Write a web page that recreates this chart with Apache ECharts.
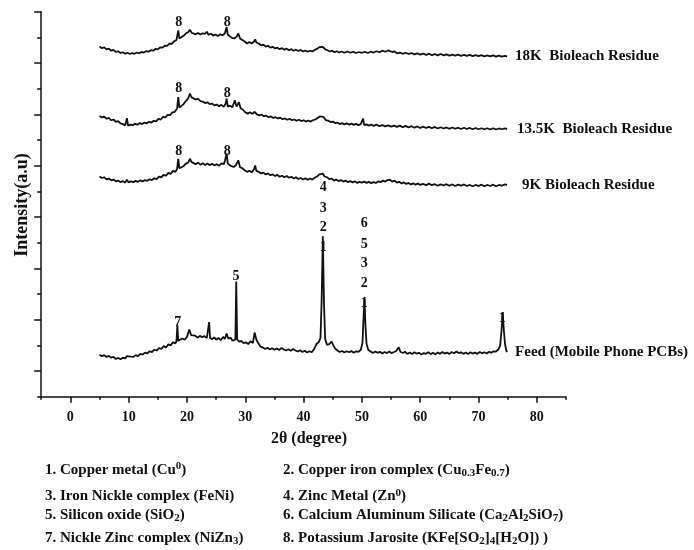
<!DOCTYPE html>
<html><head><meta charset="utf-8">
<script src="https://cdn.jsdelivr.net/npm/echarts@6/dist/echarts.min.js"></script>
<style>html,body{margin:0;padding:0;background:#fff}#c{width:694px;height:550px}</style>
</head><body><div id="c"></div>
<script>
// 2θ tick labels
var xTickValues = [0, 10, 20, 30, 40, 50, 60, 70, 80];
var xMinorValues = [-5, 5, 15, 25, 35, 45, 55, 65, 75, 85];
var yMajorValues = [0, 2, 4, 6, 8, 10, 12, 14];
var yMinorValues = [-1, 1, 3, 5, 7, 9, 11, 13];

var seriesNames = ['18K  Bioleach Residue', '13.5K  Bioleach Residue', '9K Bioleach Residue', 'Feed (Mobile Phone PCBs)'];

// [2θ, intensity (a.u., stacked offset as drawn)]
var k18 = [[5.0,12.64],[5.4,12.58],[5.8,12.61],[6.2,12.53],[6.6,12.56],[7.0,12.48],[7.4,12.51],[7.8,12.43],[8.2,12.46],[8.6,12.39],[9.0,12.42],[9.4,12.36],[9.8,12.40],[10.2,12.35],[10.6,12.39],[11.0,12.36],[11.4,12.41],[11.8,12.38],[12.2,12.43],[12.6,12.41],[13.0,12.46],[13.4,12.44],[13.8,12.50],[14.2,12.48],[14.6,12.55],[15.0,12.53],[15.4,12.61],[15.8,12.60],[16.2,12.68],[16.6,12.67],[17.0,12.76],[17.4,12.75],[17.8,12.85],[18.2,12.90],[18.5,13.27],[18.7,12.96],[19.0,13.02],[19.4,13.06],[19.8,13.15],[20.2,13.20],[20.5,13.30],[20.8,13.18],[21.1,13.22],[21.5,13.12],[21.9,13.17],[22.3,13.11],[22.7,13.16],[23.1,13.14],[23.4,13.22],[23.7,13.10],[24.1,13.14],[24.5,13.07],[24.9,13.11],[25.3,13.05],[25.7,13.12],[26.1,13.08],[26.5,13.16],[26.8,13.40],[27.0,13.10],[27.3,13.13],[27.7,12.98],[28.1,12.96],[28.5,13.02],[28.8,13.15],[29.1,12.96],[29.5,12.90],[29.9,12.84],[30.3,12.76],[30.7,12.82],[31.1,12.76],[31.5,12.84],[31.7,12.92],[31.9,12.80],[32.3,12.76],[32.7,12.69],[33.1,12.72],[33.5,12.64],[33.9,12.67],[34.3,12.60],[34.7,12.63],[35.1,12.57],[35.5,12.60],[35.9,12.54],[36.3,12.58],[36.7,12.52],[37.1,12.56],[37.5,12.50],[37.9,12.54],[38.3,12.48],[38.7,12.52],[39.1,12.47],[39.5,12.51],[39.9,12.45],[40.3,12.49],[40.7,12.44],[41.1,12.48],[41.5,12.45],[41.9,12.51],[42.3,12.55],[42.7,12.62],[43.0,12.59],[43.3,12.63],[43.7,12.53],[44.1,12.50],[44.5,12.45],[44.9,12.48],[45.3,12.42],[45.7,12.46],[46.1,12.41],[46.5,12.45],[47.0,12.40],[47.5,12.45],[48.0,12.40],[48.5,12.44],[49.0,12.39],[49.5,12.43],[50.0,12.40],[50.5,12.44],[51.0,12.39],[51.5,12.44],[52.0,12.41],[52.5,12.46],[53.0,12.42],[53.5,12.48],[54.0,12.44],[54.5,12.49],[54.8,12.52],[55.2,12.43],[55.6,12.45],[56.0,12.38],[56.5,12.41],[57.0,12.36],[57.5,12.40],[58.0,12.35],[58.5,12.39],[59.0,12.34],[59.5,12.38],[60.0,12.33],[60.5,12.37],[61.0,12.32],[61.5,12.36],[62.0,12.31],[62.5,12.35],[63.0,12.30],[63.5,12.35],[64.0,12.30],[64.5,12.34],[65.0,12.29],[65.5,12.33],[66.0,12.29],[66.5,12.33],[67.0,12.28],[67.5,12.32],[68.0,12.28],[68.5,12.32],[69.0,12.27],[69.5,12.31],[70.0,12.27],[70.5,12.31],[71.0,12.26],[71.5,12.30],[72.0,12.26],[72.5,12.30],[73.0,12.25],[73.5,12.29],[74.0,12.25],[74.5,12.28],[74.9,12.26]];

var k135 = [[5.0,9.94],[5.4,9.88],[5.8,9.91],[6.2,9.83],[6.6,9.86],[7.0,9.77],[7.4,9.80],[7.8,9.71],[8.2,9.74],[8.6,9.65],[9.0,9.62],[9.4,9.57],[9.7,9.85],[9.9,9.56],[10.3,9.60],[10.7,9.58],[11.1,9.63],[11.5,9.60],[11.9,9.66],[12.3,9.62],[12.7,9.68],[13.1,9.65],[13.5,9.71],[13.9,9.68],[14.3,9.75],[14.7,9.73],[15.1,9.82],[15.5,9.80],[15.9,9.90],[16.3,9.88],[16.7,9.98],[17.1,9.97],[17.5,10.08],[17.9,10.10],[18.3,10.22],[18.5,10.67],[18.7,10.26],[19.0,10.32],[19.4,10.40],[19.8,10.52],[20.2,10.62],[20.5,10.81],[20.8,10.66],[21.1,10.70],[21.5,10.58],[21.9,10.60],[22.3,10.52],[22.7,10.50],[23.1,10.44],[23.5,10.47],[23.9,10.40],[24.3,10.42],[24.7,10.35],[25.1,10.38],[25.5,10.32],[25.9,10.37],[26.3,10.30],[26.6,10.40],[26.8,10.61],[27.0,10.30],[27.4,10.34],[27.8,10.28],[28.2,10.55],[28.5,10.30],[28.9,10.48],[29.2,10.24],[29.6,10.18],[30.0,10.08],[30.4,10.03],[30.8,10.08],[31.2,10.02],[31.6,10.10],[32.0,10.00],[32.4,9.96],[32.8,9.99],[33.2,9.93],[33.6,9.95],[34.0,9.89],[34.4,9.92],[34.8,9.86],[35.2,9.89],[35.6,9.84],[36.0,9.87],[36.4,9.81],[36.8,9.84],[37.2,9.79],[37.6,9.83],[38.0,9.77],[38.4,9.80],[38.8,9.75],[39.2,9.79],[39.6,9.74],[40.0,9.77],[40.4,9.72],[40.8,9.76],[41.2,9.72],[41.6,9.77],[42.0,9.80],[42.4,9.86],[42.8,9.92],[43.1,9.88],[43.4,9.90],[43.8,9.78],[44.2,9.76],[44.6,9.70],[45.0,9.72],[45.4,9.66],[45.8,9.68],[46.2,9.62],[46.6,9.66],[47.0,9.61],[47.4,9.65],[47.8,9.60],[48.2,9.64],[48.6,9.59],[49.0,9.63],[49.4,9.58],[49.8,9.62],[50.1,9.60],[50.2,9.83],[50.4,9.58],[50.8,9.61],[51.2,9.56],[51.6,9.60],[52.0,9.55],[52.5,9.60],[53.0,9.54],[53.5,9.58],[54.0,9.53],[54.5,9.57],[55.0,9.52],[55.5,9.56],[56.0,9.51],[56.5,9.56],[57.0,9.50],[57.5,9.55],[58.0,9.49],[58.5,9.54],[59.0,9.48],[59.5,9.53],[60.0,9.47],[60.5,9.52],[61.0,9.47],[61.5,9.51],[62.0,9.46],[62.5,9.51],[63.0,9.45],[63.5,9.50],[64.0,9.45],[64.5,9.49],[65.0,9.44],[65.5,9.49],[66.0,9.44],[66.5,9.48],[67.0,9.43],[67.5,9.48],[68.0,9.43],[68.5,9.47],[69.0,9.42],[69.5,9.47],[70.0,9.42],[70.5,9.46],[71.0,9.42],[71.5,9.46],[72.0,9.41],[72.5,9.46],[73.0,9.41],[73.5,9.45],[74.0,9.42],[74.5,9.45],[74.9,9.43]];

var k9 = [[5.0,7.58],[5.4,7.52],[5.8,7.55],[6.2,7.47],[6.6,7.50],[7.0,7.43],[7.4,7.46],[7.8,7.39],[8.2,7.42],[8.6,7.36],[9.0,7.40],[9.4,7.34],[9.7,7.45],[10.0,7.35],[10.4,7.39],[10.8,7.36],[11.2,7.41],[11.6,7.37],[12.0,7.43],[12.4,7.39],[12.8,7.44],[13.2,7.41],[13.6,7.47],[14.0,7.44],[14.4,7.51],[14.8,7.48],[15.2,7.57],[15.6,7.55],[16.0,7.64],[16.4,7.61],[16.8,7.72],[17.2,7.68],[17.6,7.80],[18.0,7.76],[18.3,7.86],[18.5,8.27],[18.7,7.90],[19.0,7.94],[19.4,7.98],[19.8,8.08],[20.2,8.12],[20.5,8.27],[20.8,8.14],[21.1,8.18],[21.5,8.06],[21.9,8.12],[22.3,8.04],[22.7,8.10],[23.1,8.03],[23.5,8.09],[23.9,8.02],[24.3,8.08],[24.7,8.01],[25.1,8.06],[25.5,8.00],[25.9,8.09],[26.3,8.06],[26.5,8.18],[26.8,8.47],[27.0,8.08],[27.3,8.14],[27.6,7.98],[28.0,7.95],[28.4,8.02],[28.8,8.21],[29.1,7.94],[29.5,7.90],[29.9,7.82],[30.3,7.76],[30.7,7.80],[31.1,7.74],[31.5,7.86],[31.7,8.01],[31.9,7.80],[32.3,7.76],[32.7,7.70],[33.1,7.73],[33.5,7.66],[33.9,7.70],[34.3,7.63],[34.7,7.66],[35.1,7.60],[35.5,7.64],[35.9,7.57],[36.3,7.61],[36.7,7.55],[37.1,7.60],[37.5,7.53],[37.9,7.57],[38.3,7.50],[38.7,7.55],[39.1,7.48],[39.5,7.52],[39.9,7.46],[40.3,7.51],[40.7,7.45],[41.1,7.50],[41.5,7.46],[41.9,7.53],[42.3,7.58],[42.7,7.66],[43.0,7.63],[43.3,7.69],[43.6,7.58],[44.0,7.55],[44.4,7.48],[44.8,7.50],[45.2,7.42],[45.6,7.46],[46.0,7.40],[46.4,7.44],[46.8,7.38],[47.2,7.42],[47.6,7.36],[48.0,7.40],[48.4,7.35],[48.8,7.39],[49.2,7.33],[49.6,7.37],[50.0,7.34],[50.4,7.38],[50.8,7.33],[51.2,7.37],[51.6,7.32],[52.0,7.36],[52.4,7.33],[52.8,7.39],[53.2,7.36],[53.6,7.42],[54.0,7.38],[54.4,7.44],[54.8,7.46],[55.2,7.38],[55.6,7.42],[56.0,7.34],[56.4,7.37],[56.8,7.31],[57.2,7.35],[57.6,7.29],[58.0,7.33],[58.4,7.27],[58.8,7.31],[59.2,7.26],[59.6,7.31],[60.0,7.25],[60.5,7.29],[61.0,7.24],[61.5,7.30],[62.0,7.24],[62.5,7.28],[63.0,7.22],[63.5,7.27],[64.0,7.23],[64.5,7.28],[65.0,7.22],[65.5,7.27],[66.0,7.21],[66.5,7.26],[67.0,7.22],[67.5,7.27],[68.0,7.21],[68.5,7.25],[69.0,7.20],[69.5,7.25],[70.0,7.21],[70.5,7.26],[71.0,7.20],[71.5,7.25],[72.0,7.21],[72.5,7.26],[73.0,7.20],[73.5,7.25],[74.0,7.22],[74.5,7.27],[74.9,7.25]];

var feed = [[5.0,0.63],[5.4,0.58],[5.8,0.62],[6.2,0.55],[6.6,0.59],[7.0,0.52],[7.4,0.55],[7.8,0.47],[8.2,0.51],[8.6,0.46],[9.0,0.52],[9.4,0.49],[9.7,0.58],[10.0,0.51],[10.4,0.56],[10.8,0.55],[11.2,0.62],[11.6,0.58],[12.0,0.67],[12.4,0.64],[12.8,0.72],[13.2,0.69],[13.6,0.77],[14.0,0.74],[14.4,0.83],[14.8,0.80],[15.2,0.89],[15.6,0.86],[16.0,0.97],[16.4,0.92],[16.8,1.04],[17.2,1.00],[17.6,1.12],[18.0,1.08],[18.2,1.16],[18.35,1.78],[18.5,1.18],[18.8,1.14],[19.2,1.27],[19.6,1.22],[20.0,1.33],[20.4,1.62],[20.7,1.40],[21.0,1.33],[21.4,1.38],[21.8,1.30],[22.2,1.37],[22.6,1.32],[23.0,1.36],[23.4,1.28],[23.7,1.33],[23.8,1.91],[23.95,1.30],[24.3,1.24],[24.7,1.31],[25.0,1.22],[25.4,1.29],[25.8,1.20],[26.2,1.33],[26.5,1.25],[26.8,1.46],[27.1,1.26],[27.5,1.30],[27.8,1.18],[28.1,1.25],[28.3,1.22],[28.45,3.49],[28.6,1.24],[28.9,1.15],[29.3,1.17],[29.7,1.09],[30.1,1.12],[30.5,1.05],[30.9,1.16],[31.3,1.09],[31.6,1.50],[31.9,1.22],[32.2,1.10],[32.6,0.95],[33.0,0.92],[33.4,0.86],[33.8,0.91],[34.2,0.84],[34.6,0.89],[35.0,0.83],[35.4,0.88],[35.8,0.82],[36.2,0.90],[36.6,0.84],[37.0,0.80],[37.4,0.85],[37.8,0.79],[38.2,0.86],[38.6,0.80],[39.0,0.76],[39.4,0.81],[39.8,0.74],[40.2,0.79],[40.6,0.72],[41.0,0.77],[41.4,0.73],[41.8,0.85],[42.2,1.05],[42.6,1.12],[42.9,1.30],[43.1,2.80],[43.3,5.25],[43.5,2.60],[43.7,1.25],[44.0,1.02],[44.4,1.05],[44.8,1.15],[45.1,1.00],[45.4,0.88],[45.8,0.80],[46.2,0.74],[46.6,0.78],[47.0,0.72],[47.4,0.77],[47.8,0.73],[48.2,0.78],[48.6,0.71],[49.0,0.77],[49.4,0.75],[49.8,0.82],[50.1,1.10],[50.3,2.20],[50.45,2.82],[50.6,1.80],[50.8,1.05],[51.1,0.82],[51.5,0.76],[51.9,0.70],[52.3,0.76],[52.7,0.71],[53.1,0.75],[53.5,0.68],[53.9,0.74],[54.3,0.70],[54.7,0.76],[55.1,0.69],[55.5,0.74],[55.9,0.78],[56.3,0.93],[56.6,0.75],[57.0,0.70],[57.4,0.75],[57.8,0.67],[58.2,0.72],[58.6,0.66],[59.0,0.73],[59.4,0.68],[59.8,0.71],[60.2,0.64],[60.6,0.70],[61.0,0.67],[61.4,0.73],[61.8,0.66],[62.2,0.71],[62.6,0.65],[63.0,0.72],[63.4,0.67],[63.8,0.74],[64.2,0.68],[64.6,0.72],[65.0,0.66],[65.4,0.74],[65.8,0.69],[66.2,0.76],[66.6,0.70],[67.0,0.73],[67.4,0.67],[67.8,0.72],[68.2,0.66],[68.6,0.73],[69.0,0.68],[69.4,0.72],[69.8,0.67],[70.2,0.74],[70.6,0.69],[71.0,0.73],[71.4,0.68],[71.8,0.75],[72.2,0.71],[72.6,0.77],[73.0,0.76],[73.4,0.84],[73.7,0.98],[73.95,1.60],[74.15,2.30],[74.35,1.55],[74.55,1.05],[74.75,0.80],[74.9,0.74]];

// peak annotations
var peakLabelX = [18.6, 26.9, 18.6, 26.9, 18.6, 26.9, 43.37, 43.37, 43.37, 43.37, 50.4, 50.4, 50.4, 50.4, 50.4, 74.06, 28.41, 18.41];
var peakLabelY = [13.60, 13.60, 11.00, 10.83, 8.55, 8.55, 7.17, 6.35, 5.61, 4.83, 5.74, 4.94, 4.18, 3.40, 2.63, 2.04, 3.69, 1.91];
var peakLabelText = ['8', '8', '8', '8', '8', '8', '4', '3', '2', '1', '6', '5', '3', '2', '1', '1', '5', '7'];

var legendItems = [
  '1. Copper metal (Cu{sup|0})',
  '2. Copper iron complex (Cu{sub|0.3}Fe{sub|0.7})',
  '3. Iron Nickle complex (FeNi)',
  '4. Zinc Metal (Zn{sup|0})',
  '5. Silicon oxide (SiO{sub|2})',
  '6. Calcium Aluminum Silicate (Ca{sub|2}Al{sub|2}SiO{sub|7})',
  '7. Nickle Zinc complex (NiZn{sub|3})',
  '8. Potassium Jarosite (KFe[SO{sub|2}]{sub|4}[H{sub|2}O]) )'
];

var FONT = '"Liberation Serif", "Times New Roman", serif';
var INK = '#111';

var chart = echarts.init(document.getElementById('c'), null, {renderer: 'canvas'});

var seriesData = [k18, k135, k9, feed];
var labelDist = [8, 10, 15, 8];
var lineSeries = seriesData.map(function (d, i) {
  return {
    type: 'line', name: seriesNames[i], data: d, xAxisIndex: 0, yAxisIndex: 0,
    showSymbol: false, symbol: 'none', silent: true,
    lineStyle: {color: INK, width: 1.8},
    endLabel: {show: true, formatter: seriesNames[i], distance: labelDist[i], color: INK,
      fontFamily: FONT, fontWeight: 'bold', fontSize: 15}
  };
});

var labelData = peakLabelX.map(function (x, i) {
  return {value: [x, peakLabelY[i]], name: peakLabelText[i]};
});

var richStyles = {
  sup: {fontSize: 11, fontWeight: 'bold', fontFamily: FONT, fill: INK, verticalAlign: 'top', lineHeight: 9},
  sub: {fontSize: 11, fontWeight: 'bold', fontFamily: FONT, fill: INK, verticalAlign: 'bottom', lineHeight: 9}
};
var legendX = [45, 283];
var legendY = [470, 496.5, 515, 538];
var graphics = legendItems.map(function (t, i) {
  return {
    type: 'text', left: legendX[i % 2], top: legendY[Math.floor(i / 2)] - 9,
    style: {text: t, rich: richStyles, fill: INK, font: 'bold 15px ' + FONT, lineHeight: 18}
  };
});
graphics.push({
  type: 'text', x: 309, y: 439.3,
  style: {text: '2θ (degree)', fill: INK, font: 'bold 16px ' + FONT, align: 'center', verticalAlign: 'middle'}
});
graphics.push({
  type: 'text', x: 22, y: 205, rotation: Math.PI / 2,
  style: {text: 'Intensity(a.u)', fill: INK, font: 'bold 18px ' + FONT, align: 'center', verticalAlign: 'middle'}
});

chart.setOption({
  animation: false,
  backgroundColor: '#fff',
  grid: {left: 41.2, right: 128, top: 11.7, bottom: 153.3, containLabel: false},
  xAxis: [
    {type: 'value', min: -5, max: 85, position: 'bottom',
      axisLine: {show: true, onZero: false, lineStyle: {color: INK, width: 1.5}},
      axisTick: {show: true, customValues: xTickValues, length: 6, lineStyle: {color: INK, width: 1.5}},
      axisLabel: {show: true, customValues: xTickValues, margin: 14, color: INK, fontFamily: FONT, fontWeight: 'bold', fontSize: 14},
      splitLine: {show: false}},
    {type: 'value', min: -5, max: 85, position: 'bottom',
      axisLine: {show: false, onZero: false},
      axisTick: {show: true, customValues: xMinorValues, length: 3, lineStyle: {color: INK, width: 1.5}},
      axisLabel: {show: false}, splitLine: {show: false}}
  ],
  yAxis: [
    {type: 'value', min: -1, max: 14, position: 'left',
      axisLine: {show: true, onZero: false, lineStyle: {color: INK, width: 1.5}},
      axisTick: {show: true, customValues: yMajorValues, length: 7, lineStyle: {color: INK, width: 1.5}},
      axisLabel: {show: false}, splitLine: {show: false}},
    {type: 'value', min: -1, max: 14, position: 'left',
      axisLine: {show: false, onZero: false},
      axisTick: {show: true, customValues: yMinorValues, length: 4, lineStyle: {color: INK, width: 1.5}},
      axisLabel: {show: false}, splitLine: {show: false}}
  ],
  series: lineSeries.concat([{
    type: 'scatter', name: 'peaks', data: labelData, symbolSize: 0, silent: true,
    xAxisIndex: 0, yAxisIndex: 0,
    itemStyle: {color: INK, opacity: 1},
    label: {show: true, position: 'inside', formatter: '{b}', opacity: 1,
      color: INK, textBorderWidth: 0, textBorderColor: 'transparent',
      fontFamily: FONT, fontWeight: 'bold', fontSize: 14}
  }]),
  graphic: graphics
});
</script></body></html>
